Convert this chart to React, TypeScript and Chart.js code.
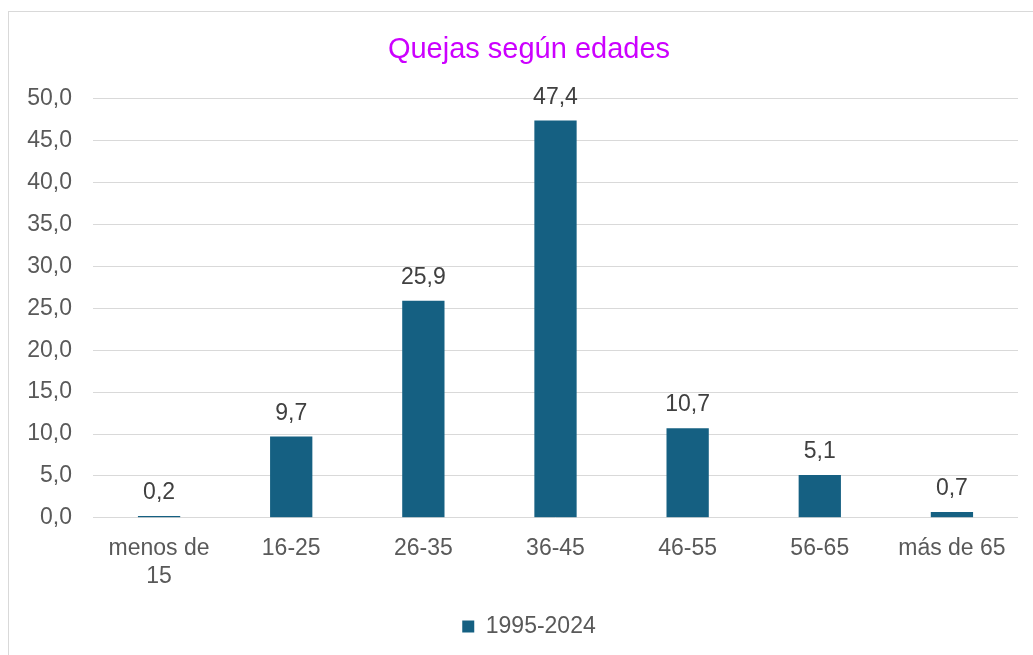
import React, { useEffect, useRef } from "react";
import { Chart, registerables } from "chart.js";

Chart.register(...registerables);

const categories: (string | string[])[] = [
  ["menos de", "15"],
  "16-25",
  "26-35",
  "36-45",
  "46-55",
  "56-65",
  "más de 65",
];
const seriesLabel = "1995-2024";
const values = [0.2, 9.7, 25.9, 47.4, 10.7, 5.1, 0.7];
const titleText = "Quejas según edades";

const FONT = "Arial, 'Liberation Sans', sans-serif";

const fmt = (v: number) => v.toFixed(1).replace(".", ",");

const dataLabelPlugin = {
  id: "dataLabels",
  afterLayout(chart: any) {
    // let the y tick labels extend into the left padding without clipping
    if (chart.scales.y) chart.scales.y.left = 0;
  },
  afterDatasetsDraw(chart: any) {
    const ctx = chart.ctx;
    const meta = chart.getDatasetMeta(0);
    ctx.save();
    ctx.font = `23px ${FONT}`;
    ctx.fillStyle = "#404040";
    ctx.textAlign = "center";
    ctx.textBaseline = "alphabetic";
    meta.data.forEach((bar: any, i: number) => {
      const v = chart.data.datasets[0].data[i] as number;
      ctx.fillText(fmt(v), bar.x, bar.y - 17);
    });
    ctx.restore();
  },
};

export default function App() {
  const ref = useRef<HTMLCanvasElement | null>(null);
  useEffect(() => {
    if (!ref.current) return;
    const chart = new Chart(ref.current, {
      type: "bar",
      data: {
        labels: categories,
        datasets: [
          {
            label: seriesLabel,
            data: values,
            backgroundColor: "#156082",
            barPercentage: 0.32,
            categoryPercentage: 1,
          },
        ],
      },
      options: {
        animation: false,
        responsive: false,
        maintainAspectRatio: false,
        layout: { padding: { left: 40, right: 15, top: 0, bottom: 7 } },
        plugins: {
          title: {
            display: true,
            text: titleText,
            color: "#CC00FF",
            font: { family: FONT, size: 29, weight: "normal" },
            padding: { top: 33, bottom: 31 },
          },
          legend: {
            display: true,
            position: "bottom",
            labels: {
              boxWidth: 12,
              boxHeight: 12,
              padding: 8,
              color: "#595959",
              font: { family: FONT, size: 23 },
            },
          },
          tooltip: { enabled: false },
        },
        scales: {
          x: {
            grid: { display: false, drawTicks: false },
            border: { display: false },
            ticks: {
              color: "#595959",
              font: { family: FONT, size: 23, lineHeight: 1.2 },
              padding: 17,
              maxRotation: 0,
              autoSkip: false,
            },
          },
          y: {
            min: 0,
            max: 50,
            afterFit: (scale: any) => {
              scale.width = 53;
            },
            grid: { color: "#d9d9d9", lineWidth: 1, drawTicks: false },
            border: { display: false },
            ticks: {
              stepSize: 5,
              color: "#595959",
              font: { family: FONT, size: 23 },
              padding: 21,
              callback: (v: any) => fmt(Number(v)),
            },
          },
        },
      },
      plugins: [dataLabelPlugin],
    });
    return () => chart.destroy();
  }, []);

  return (
    <div style={{ position: "absolute", left: 0, top: 0, width: 1033, height: 655, background: "#fff", overflow: "hidden" }}>
      <div
        style={{
          position: "absolute",
          left: 8,
          top: 11,
          width: 1100,
          height: 700,
          border: "1px solid #d9d9d9",
        }}
      />
      <canvas ref={ref} width={1033} height={655} style={{ position: "absolute", left: 0, top: 0, width: 1033, height: 655 }} />
    </div>
  );
}
